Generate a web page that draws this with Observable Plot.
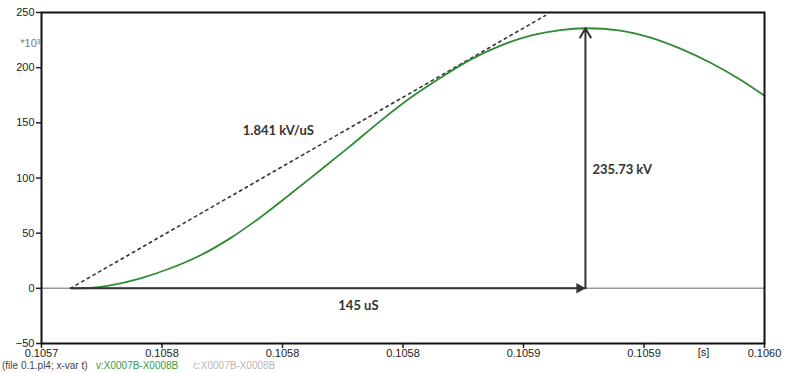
<!DOCTYPE html>
<html>
<head>
<meta charset="utf-8">
<script src="https://cdn.jsdelivr.net/npm/d3@7"></script>
<script src="https://cdn.jsdelivr.net/npm/@observablehq/plot@0.6"></script>
<style>
  html, body { margin: 0; padding: 0; background: #fff; }
  #wrap { width: 786px; position: relative; }
  #footer { position: relative; height: 15px; width: 786px; font-family: "Liberation Sans", Arial, sans-serif; font-size: 10px; }
  #footer span { position: absolute; top: 2px; white-space: nowrap; }
</style>
</head>
<body>
<div id="wrap"></div>
<div id="footer">
  <span id="f1" style="left:2px;color:#444">(file 0.1.pl4; x-var t)</span>
  <span id="f2" style="left:96px;color:#3a9a3a">v:X0007B-X0008B</span>
  <span id="f3" style="left:193px;color:#b8b8b8">c:X0007B-X0008B</span>
</div>
<script>
// Voltage waveform (time in s, voltage in kV)
const timeS = [0.1057129, 0.1057203, 0.1057286, 0.1057411, 0.1057535, 0.1057660, 0.1057784, 0.1057909,
  0.1058033, 0.1058158, 0.1058282, 0.1058407, 0.1058531, 0.1058656, 0.1058780, 0.1058905,
  0.1059029, 0.1059153, 0.1059257, 0.1059402, 0.1059527, 0.1059651, 0.1059776, 0.1059900, 0.1060000];
const voltageKV = [0, 0.45, 2.7, 9.1, 18.2, 30.0, 45.5, 64.5,
  85.5, 107.3, 129.1, 151.8, 172.7, 190.9, 207.3, 220.0,
  229.1, 234.1, 235.73, 233.6, 227.3, 217.3, 204.5, 189.1, 174.5];

// Tangent (rate of rise) line
const tangentT = [0.1057120, 0.1059091];
const tangentV = [0, 247.3];

// Peak and start of rise
const startT = 0.1057120;
const peakT = 0.1059257;
const peakV = 235.73;

// Annotations
const annoText = ["1.841 kV/uS", "235.73 kV", "145 uS"];
const annoT = [0.1057983, 0.1059286, 0.1058315];
const annoV = [142.7, 107.3, -15.5];
const annoAnchor = ["middle", "start", "middle"];

// Axes
const xTicks = [0.1057, 0.10575, 0.1058, 0.10585, 0.1059, 0.10595, 0.1060];
const xTickLabels = ["0.1057", "0.1058", "0.1058", "0.1058", "0.1059", "0.1059", "0.1060"];
const yTicks = [-50, 0, 50, 100, 150, 200, 250];
const xUnitLabel = "[s]";
const xUnitT = 0.1059747;
const yScaleLabel = "*10³";

const curve = timeS.map((t, i) => ({t, v: voltageKV[i]}));
const tangent = tangentT.map((t, i) => ({t, v: tangentV[i]}));
const annos = annoText.map((s, i) => ({s, t: annoT[i], v: annoV[i], a: annoAnchor[i]}));

const ink = "#333";
const annoStyle = {x: "t", y: "v", text: "s", fill: ink, fontSize: 13, fontWeight: "bold", fontFamily: "Lato, 'Open Sans', sans-serif"};
const chart = Plot.plot({
  width: 786,
  height: 358,
  marginLeft: 41,
  marginRight: 22,
  marginTop: 12,
  marginBottom: 15,
  style: {fontFamily: "'Liberation Sans', Arial, sans-serif", fontSize: "11px", color: "#222", background: "#fff", overflow: "visible"},
  x: {domain: [0.1057, 0.1060]},
  y: {domain: [-50, 250]},
  marks: [
    Plot.axisX({ticks: xTicks, tickFormat: d => xTickLabels[xTicks.indexOf(d)], tickSize: 5, tickPadding: 1, strokeWidth: 1.5, label: null}),
    Plot.axisY({ticks: yTicks, tickSize: 5, tickPadding: 2, strokeWidth: 1.5, label: null}),
    Plot.text([xUnitLabel], {x: xUnitT, frameAnchor: "bottom", dy: 12, fill: "#222"}),
    Plot.text([yScaleLabel], {frameAnchor: "top-left", dx: -1, dy: 27, textAnchor: "end", fill: "#777"}),
    Plot.ruleY([0], {stroke: "#999", strokeWidth: 1.5}),
    Plot.line(tangent, {x: "t", y: "v", stroke: ink, strokeWidth: 1.6, strokeDasharray: "2.5,4"}),
    Plot.line(curve, {x: "t", y: "v", stroke: "#2e8b34", strokeWidth: 1.8, curve: "catmull-rom"}),
    Plot.link([{x1: startT, x2: peakT}], {x1: "x1", x2: "x2", y1: 0, y2: 0, stroke: ink, strokeWidth: 2}),
    Plot.dot([{t: peakT}], {x: "t", y: 0, symbol: "triangle", r: 3.9, rotate: 90, dx: -6, fill: ink, stroke: "none"}),
    Plot.arrow([{t: peakT}], {x1: "t", x2: "t", y1: 0, y2: peakV, stroke: ink, strokeWidth: 2, headLength: 8, headAngle: 60}),
    Plot.text(annos.filter(d => d.a === "middle"), {...annoStyle, textAnchor: "middle"}),
    Plot.text(annos.filter(d => d.a === "start"), {...annoStyle, textAnchor: "start"}),
    Plot.frame({stroke: "#111", strokeWidth: 2})
  ]
});
document.getElementById("wrap").appendChild(chart);
</script>
</body>
</html>
